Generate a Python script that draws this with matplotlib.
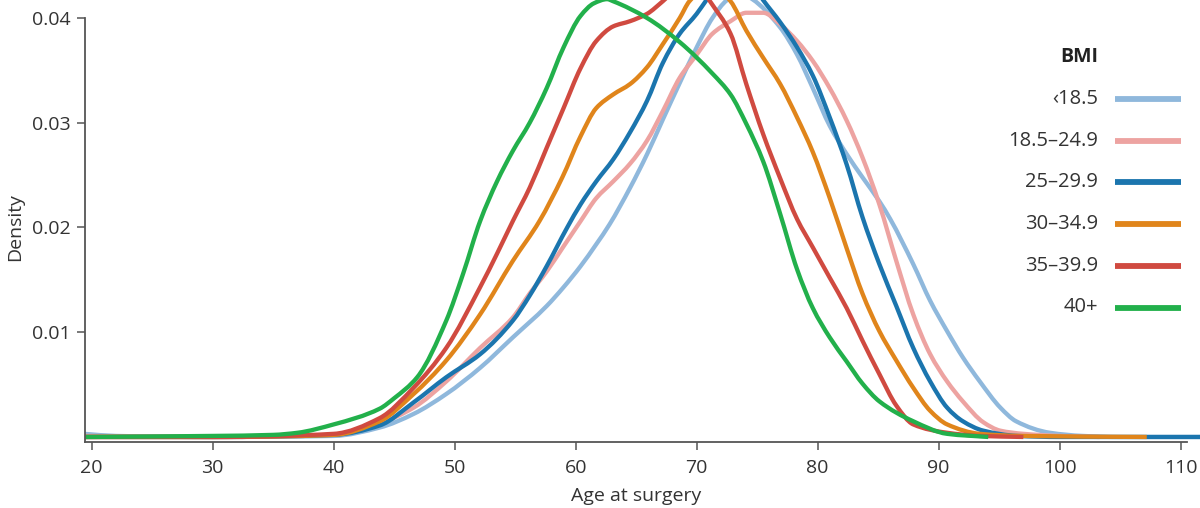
import matplotlib
matplotlib.use("Agg")
import numpy as np
import matplotlib.pyplot as plt
from matplotlib.lines import Line2D
from matplotlib.path import Path
from matplotlib.patches import PathPatch

plt.rcParams['font.family'] = ['Open Sans', 'DejaVu Sans']

# ---------------- data ----------------
groups = ["\u203918.5", "18.5\u201324.9", "25\u201329.9", "30\u201334.9", "35\u201339.9", "40+"]
colors = ["#8fb8dc", "#eda3a1", "#1b75ae", "#e0851b", "#d04a40", "#22b04b"]

age_lt185 = [19.4, 22, 30, 40, 43.8, 46.6, 49.3, 52.1, 54.8, 57.6, 59.0, 60.4, 61.7, 62.8, 64.5,
             65.9, 67.2, 68.6, 70.0, 71.3, 72.5, 73.6, 74.6, 76.9, 78.3, 79.6, 81.0, 82.4, 83.7,
             85.1, 86.0, 87.9, 89.3, 90.7, 92.0, 93.4, 95.1, 96.4, 99.2, 101.9, 105, 111.6]
dens_lt185 = [0.0003, 0.0001, 0.0000, 0.0001, 0.0009, 0.0022, 0.0041, 0.0066, 0.0095, 0.0125,
              0.0143, 0.0163, 0.0184, 0.0203, 0.0238, 0.0270, 0.0303, 0.0338, 0.0372, 0.0400,
              0.0417, 0.0424, 0.0418, 0.0391, 0.0365, 0.0333, 0.0297, 0.0270, 0.0248, 0.0225,
              0.0208, 0.0165, 0.0130, 0.0101, 0.0076, 0.0053, 0.0028, 0.0015, 0.0004, 0.0001,
              0.0, 0.0]

age_185 = [19.4, 30, 40, 43.8, 46.6, 49.3, 52.1, 54.8, 56.2, 57.6, 59.0, 60.4, 61.7, 63.1, 64.5,
           65.9, 67.2, 68.6, 70.0, 71.3, 72.8, 74.1, 75.5, 76.9, 78.3, 79.6, 81.0, 82.4, 83.7,
           85.1, 86.5, 87.9, 89.3, 90.7, 92.0, 93.7, 95.1, 97.0, 100, 103.3]
dens_185 = [0.0001, 0.0, 0.0002, 0.0013, 0.0028, 0.0053, 0.0085, 0.0114, 0.0137, 0.0158, 0.0182,
            0.0206, 0.0228, 0.0244, 0.0261, 0.0283, 0.0311, 0.0343, 0.0365, 0.0385, 0.0397,
            0.0405, 0.0405, 0.0394, 0.0378, 0.0359, 0.0333, 0.0302, 0.0267, 0.0222, 0.0168,
            0.0117, 0.0079, 0.0053, 0.0034, 0.0014, 0.0006, 0.0003, 0.0001, 0.0]

age_25 = [19.4, 30, 40, 43.8, 46.6, 49.3, 52.1, 54.8, 56.2, 57.6, 59.3, 60.4, 61.7, 63.1, 64.5,
          65.9, 67.2, 68.6, 70.0, 70.8, 72.0, 73.2, 74.4, 75.5, 76.9, 78.3, 79.6, 81.0, 82.4,
          83.7, 85.1, 86.5, 87.9, 89.3, 90.7, 92.0, 93.7, 96.5, 100, 111.6]
dens_25 = [0.0, 0.0, 0.0002, 0.0011, 0.0033, 0.0057, 0.0079, 0.0111, 0.0135, 0.0163, 0.0200,
           0.0222, 0.0244, 0.0265, 0.0291, 0.0321, 0.0357, 0.0385, 0.0404, 0.0417, 0.0435,
           0.0442, 0.0435, 0.0417, 0.0396, 0.0372, 0.0345, 0.0305, 0.0260, 0.0210, 0.0165,
           0.0125, 0.0085, 0.0053, 0.0028, 0.0015, 0.0006, 0.0001, 0.0, 0.0]

age_30 = [19.4, 30, 40, 43.8, 46.6, 49.3, 52.1, 54.8, 57.0, 58.9, 60.4, 61.7, 63.1, 64.5, 65.9,
          67.2, 68.6, 69.4, 70.3, 71.1, 72.0, 72.8, 74.1, 75.5, 76.9, 78.3, 79.6, 81.0, 82.4,
          83.7, 85.1, 86.5, 87.9, 89.3, 90.7, 93.4, 96.7, 107.2]
dens_30 = [0.0, 0.0, 0.0002, 0.0015, 0.0041, 0.0073, 0.0117, 0.0168, 0.0206, 0.0248, 0.0287,
           0.0314, 0.0327, 0.0337, 0.0353, 0.0375, 0.0400, 0.0416, 0.0425, 0.0428, 0.0425,
           0.0416, 0.0388, 0.0362, 0.0337, 0.0305, 0.0272, 0.0228, 0.0180, 0.0137, 0.0101,
           0.0073, 0.0047, 0.0025, 0.0012, 0.0003, 0.0001, 0.0]

age_35 = [19.4, 30, 40, 43.8, 46.6, 49.3, 52.1, 53.5, 54.8, 56.2, 57.6, 59.0, 60.4, 61.7, 63.1,
          64.5, 65.9, 67.2, 68.4, 69.6, 70.4, 71.1, 72.8, 74.1, 75.5, 76.9, 78.3, 79.6, 81.0,
          82.4, 83.7, 85.1, 86.5, 87.9, 90.7, 93.4, 97.0]
dens_35 = [0.0, 0.0, 0.0003, 0.0018, 0.0047, 0.0085, 0.0143, 0.0175, 0.0206, 0.0238, 0.0276,
           0.0314, 0.0352, 0.0378, 0.0392, 0.0397, 0.0404, 0.0416, 0.0428, 0.0432, 0.0428,
           0.0416, 0.0385, 0.0337, 0.0289, 0.0247, 0.0208, 0.0181, 0.0152, 0.0123, 0.0092,
           0.0060, 0.0030, 0.0012, 0.0004, 0.0001, 0.0]

age_40 = [19.4, 30, 35, 37, 40, 43.8, 45.0, 46.9, 49.3, 50.7, 52.1, 53.5, 54.8, 56.2, 57.6, 59.0,
          60.4, 61.5, 62.6, 63.1, 65.9, 68.6, 71.3, 72.8, 74.1, 75.5, 76.9, 78.3, 79.6, 81.0,
          82.4, 83.7, 85.1, 87.9, 90.7, 94.1]
dens_40 = [0.0, 0.0001, 0.0002, 0.0004, 0.0012, 0.0027, 0.0037, 0.0057, 0.0111, 0.0156, 0.0206,
           0.0244, 0.0273, 0.0300, 0.0333, 0.0372, 0.0402, 0.0414, 0.0418, 0.0416, 0.0400,
           0.0377, 0.0347, 0.0327, 0.0299, 0.0263, 0.0213, 0.0160, 0.0123, 0.0095, 0.0072,
           0.0051, 0.0034, 0.0015, 0.0003, 0.0]

ages = [age_lt185, age_185, age_25, age_30, age_35, age_40]
dens = [dens_lt185, dens_185, dens_25, dens_30, dens_35, dens_40]

xticks = [20, 30, 40, 50, 60, 70, 80, 90, 100, 110]
yticks = [0.01, 0.02, 0.03, 0.04]
ytick_labels = ["0.01", "0.02", "0.03", "0.04"]


def smooth_path(x, y):
    """Smooth Bezier path through the read points (monotone cubic tangents)."""
    x = np.asarray(x, float)
    y = np.asarray(y, float)
    h = np.diff(x)
    d = np.diff(y) / h
    n = len(x)
    m = np.zeros(n)
    for k in range(1, n - 1):
        if d[k - 1] * d[k] > 0:
            w1 = 2 * h[k] + h[k - 1]
            w2 = h[k] + 2 * h[k - 1]
            m[k] = (w1 + w2) / (w1 / d[k - 1] + w2 / d[k])
    m[0] = d[0]
    m[-1] = d[-1]
    verts = [(x[0], y[0])]
    codes = [Path.MOVETO]
    for k in range(n - 1):
        verts += [(x[k] + h[k] / 3, y[k] + m[k] * h[k] / 3),
                  (x[k + 1] - h[k] / 3, y[k + 1] - m[k + 1] * h[k] / 3),
                  (x[k + 1], y[k + 1])]
        codes += [Path.CURVE4] * 3
    return Path(verts, codes)


# ---------------- figure ----------------
W, H = 1200, 508
fig = plt.figure(figsize=(W / 100, H / 100), dpi=100)
ax = fig.add_axes([84.7 / W, 66 / H, 1 - 84.7 / W, 1 - 66 / H])

for a, d, c in zip(ages, dens, colors):
    ax.add_patch(PathPatch(smooth_path(a, d), fill=False, edgecolor=c, lw=3.1,
                           joinstyle='round', capstyle='butt'))

ax.set_xlim(19.42, 111.6)
ax.set_ylim(-0.00048, 0.04172)

spine_col = "#555555"
for s in ["top", "right"]:
    ax.spines[s].set_visible(False)
ax.spines["left"].set_bounds(-0.00048, 0.04)
ax.spines["bottom"].set_bounds(19.42, 110.5)
for s in ["left", "bottom"]:
    ax.spines[s].set_color(spine_col)
    ax.spines[s].set_linewidth(1.3)

ax.set_xticks(xticks)
ax.set_xticklabels([str(t) for t in xticks])
ax.set_yticks(yticks)
ax.set_yticklabels(ytick_labels)
ax.tick_params(axis='both', colors=spine_col, labelcolor="#333333", labelsize=14,
               length=6, width=1.1)
ax.tick_params(axis='x', pad=6)
ax.tick_params(axis='y', pad=4)

fig.text(636 / W, 1 - 496 / H, "Age at surgery", ha='center', va='center',
         fontsize=14, color="#333333")
fig.text(15 / W, 1 - 227 / H, "Density", ha='center', va='center', rotation=90,
         fontsize=14, color="#333333")

# ---------------- legend (drawn manually on the right) ----------------
fig.text(1098 / W, 1 - 57 / H, "BMI", ha='right', va='center', fontsize=14,
         fontweight='bold', color="#222222")
row0, step = 99, 41.7
for i, (g, c) in enumerate(zip(groups, colors)):
    yc = 1 - (row0 + i * step) / H
    fig.text(1098 / W, yc, g, ha='right', va='center', fontsize=14.5, color="#333333")
    fig.add_artist(Line2D([1115 / W, 1181 / W], [yc, yc], color=c, lw=4.2,
                          transform=fig.transFigure, solid_capstyle='butt'))

fig.savefig("out.png", dpi=100)
